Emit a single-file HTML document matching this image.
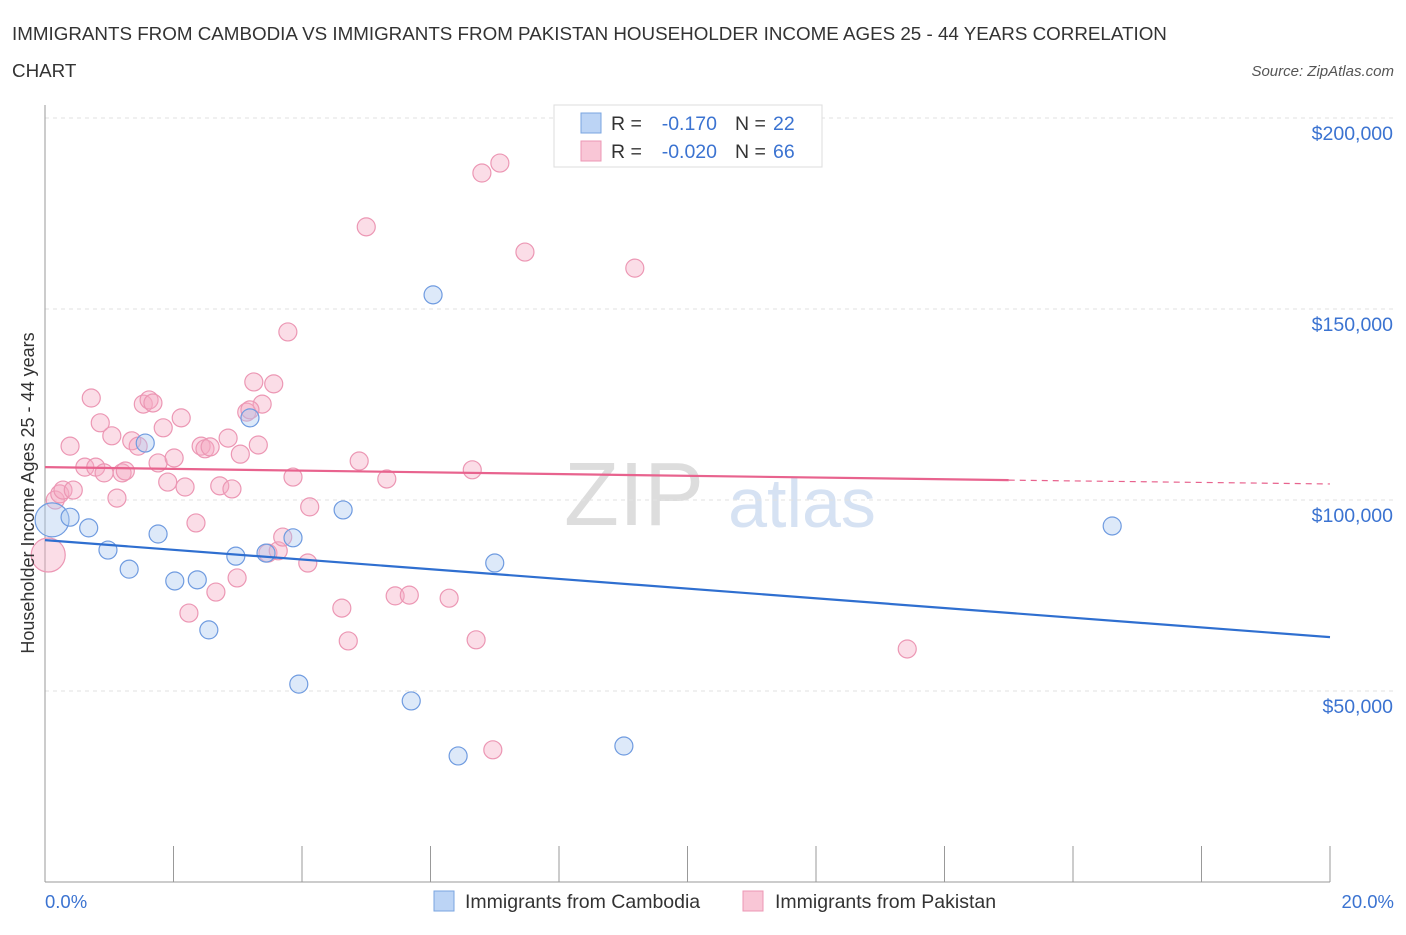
<!DOCTYPE html>
<html><head><meta charset="utf-8"><style>
body{margin:0;background:#fff;font-family:"Liberation Sans",sans-serif;}
svg text{font-family:"Liberation Sans",sans-serif;}
</style></head><body>
<svg width="1406" height="930" viewBox="0 0 1406 930" id="chart">
<text x="12" y="40" font-size="18.8" fill="#333">IMMIGRANTS FROM CAMBODIA VS IMMIGRANTS FROM PAKISTAN HOUSEHOLDER INCOME AGES 25 - 44 YEARS CORRELATION</text>
<text x="12" y="77" font-size="18.8" fill="#333">CHART</text>
<text x="1394" y="76" font-size="15" fill="#555" font-style="italic" text-anchor="end">Source: ZipAtlas.com</text>
<text x="634" y="525" font-size="90" fill="#ddd" font-family="Liberation Serif" text-anchor="middle">ZIP</text>
<text x="802" y="527" font-size="70" fill="#d6e2f3" text-anchor="middle">atlas</text>
<g id="grid"></g><g id="axes"></g><g id="marks"></g>
<text transform="translate(34,493) rotate(-90)" font-size="18" fill="#333" text-anchor="middle">Householder Income Ages 25 - 44 years</text>
<text x="45" y="908" font-size="18.5" fill="#3b73d1">0.0%</text>
<text x="1394" y="908" font-size="18.5" fill="#3b73d1" text-anchor="end">20.0%</text>
<g>
<rect x="554" y="105" width="268" height="62" fill="#fff" stroke="#ddd"/>
<rect x="581" y="113" width="20" height="20" fill="#bcd4f5" stroke="#7aa5e0"/>
<rect x="581" y="141" width="20" height="20" fill="#f9c6d6" stroke="#ec97b4"/>
<text x="611" y="130" font-size="19.5" fill="#333">R =</text>
<text x="717" y="130" font-size="19.5" fill="#3b73d1" text-anchor="end">-0.170</text>
<text x="735" y="130" font-size="19.5" fill="#333">N =</text>
<text x="773" y="130" font-size="19.5" fill="#3b73d1">22</text>
<text x="611" y="158" font-size="19.5" fill="#333">R =</text>
<text x="717" y="158" font-size="19.5" fill="#3b73d1" text-anchor="end">-0.020</text>
<text x="735" y="158" font-size="19.5" fill="#333">N =</text>
<text x="773" y="158" font-size="19.5" fill="#3b73d1">66</text>
</g>
<g>
<rect x="434" y="891" width="20" height="20" fill="#bcd4f5" stroke="#7aa5e0"/>
<text x="465" y="908" font-size="19.5" fill="#333">Immigrants from Cambodia</text>
<rect x="743" y="891" width="20" height="20" fill="#f9c6d6" stroke="#ec97b4"/>
<text x="775" y="908" font-size="19.5" fill="#333">Immigrants from Pakistan</text>
</g>
</svg>
<script>
const yTicks=[50,100,150,200];
const xTicks=[0,2,4,6,8,10,12,14,16,18,20];
const cambX=[0.11,0.39,0.68,0.98,1.31,1.56,1.76,2.02,2.37,2.55,2.97,3.19,3.44,3.86,3.95,4.64,5.70,6.04,6.43,7.00,9.01,16.61];
const cambY=[94.8,95.5,92.7,86.9,81.9,114.9,91.1,78.8,79.1,66.0,85.3,121.5,86.1,90.1,51.8,97.4,47.4,153.7,33.0,83.5,35.6,93.2];
const pakX=[0.05,0.16,0.23,0.28,0.39,0.44,0.62,0.72,0.79,0.86,0.92,1.04,1.12,1.20,1.25,1.35,1.45,1.53,1.62,1.68,1.76,1.84,1.91,2.01,2.12,2.18,2.24,2.35,2.43,2.49,2.57,2.66,2.72,2.85,2.91,2.99,3.04,3.14,3.25,3.38,3.47,3.56,3.63,3.70,3.78,3.86,4.09,4.12,4.62,4.72,4.89,5.00,5.32,5.45,5.67,6.29,6.65,6.71,6.80,6.97,7.08,7.47,9.18,13.42,3.32,3.19];
const pakY=[85.6,100.0,101.6,102.6,114.1,102.6,108.6,126.7,108.6,120.2,107.1,116.8,100.5,107.1,107.6,115.5,114.1,125.1,126.2,125.4,109.7,118.9,104.7,111.0,121.5,103.4,70.4,94.0,114.1,113.4,113.9,75.9,103.7,116.2,102.9,79.6,112.0,123.0,130.9,125.1,86.1,130.4,86.7,90.3,144.0,106.0,83.5,98.2,71.7,63.1,110.2,171.5,105.5,74.9,75.1,74.3,107.9,63.4,185.6,34.6,188.2,164.9,160.7,61.0,114.4,123.6];
const cambTrend=[[0,89.5],[20,64.1]];
const pakTrend=[[0,108.6],[15,105.2],[20,104.2]];
const NS='http://www.w3.org/2000/svg';
const X=v=>45+v*64.25;
const Y=v=>882-v*3.82;
function mk(tag,attrs,parent){const e=document.createElementNS(NS,tag);for(const k in attrs)e.setAttribute(k,attrs[k]);document.getElementById(parent).appendChild(e);return e;}
yTicks.forEach(t=>{
 const l=mk('line',{x1:45,x2:1394,y1:Y(t),y2:Y(t),stroke:'#e2e2e2','stroke-dasharray':'4 4'},'grid');
 
 
 const tx=mk('text',{x:1393,y:Y(t)+22,'font-size':19.5,fill:'#3b73d1','text-anchor':'end'},'grid');
 tx.textContent='$'+(t*1000).toLocaleString('en-US');
 
 
});
const ax=mk('line',{x1:45,x2:45,y1:105,y2:882,stroke:'#999'},'axes');


const bx=mk('line',{x1:45,x2:1330,y1:882,y2:882,stroke:'#999'},'axes');


xTicks.forEach(t=>{
 const l=mk('line',{x1:X(t),x2:X(t),y1:846,y2:882,stroke:'#999'},'axes');
 
 
});
function dots(xs,ys,fill,stroke,name){
 xs.forEach((x,i)=>{
  const c=mk('circle',{cx:X(x),cy:Y(ys[i]),r:i===0?17:9,fill:fill,'fill-opacity':0.4,stroke:stroke,'stroke-width':1.2},'marks');
  
  
 });
}
dots(pakX,pakY,'#f4a9c2','#ec97b4','pakistan-point');
dots(cambX,cambY,'#a9c8f0','#6f9be0','cambodia-point');
const ct=mk('line',{x1:X(cambTrend[0][0]),y1:Y(cambTrend[0][1]),x2:X(cambTrend[1][0]),y2:Y(cambTrend[1][1]),stroke:'#2f6fd0','stroke-width':2.2},'marks');


const pt=mk('line',{x1:X(pakTrend[0][0]),y1:Y(pakTrend[0][1]),x2:X(pakTrend[1][0]),y2:Y(pakTrend[1][1]),stroke:'#e8638e','stroke-width':2.2},'marks');


const pd=mk('line',{x1:X(pakTrend[1][0]),y1:Y(pakTrend[1][1]),x2:X(pakTrend[2][0]),y2:Y(pakTrend[2][1]),stroke:'#e8638e','stroke-width':1.2,'stroke-dasharray':'6 5'},'marks');


</script>
</body></html>
